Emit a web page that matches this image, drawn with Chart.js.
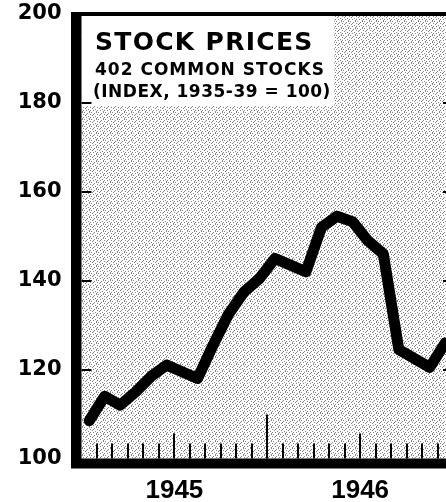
<!DOCTYPE html>
<html><head><meta charset="utf-8">
<script src="https://cdn.jsdelivr.net/npm/chart.js@4.4.0/dist/chart.umd.min.js"></script>
<style>
html,body{margin:0;padding:0;background:#fff;overflow:hidden;width:446px;height:502px}
#wrap{position:relative;width:446px;height:502px;overflow:hidden}
canvas{display:block}
</style></head><body>
<div id="wrap"><canvas id="c" width="470" height="502"></canvas></div>
<script>
// ---- data ----
const months = ['Jan 1945','Feb 1945','Mar 1945','Apr 1945','May 1945','Jun 1945','Jul 1945','Aug 1945','Sep 1945','Oct 1945','Nov 1945','Dec 1945',
                'Jan 1946','Feb 1946','Mar 1946','Apr 1946','May 1946','Jun 1946','Jul 1946','Aug 1946','Sep 1946','Oct 1946','Nov 1946','Dec 1946'];
const stockIndex = [108.5,114,112,115,118.5,121,119.5,118,125.5,132.5,137.5,140.5,
                    145,143.5,142,152,154.5,153.3,149,146,124.5,122.5,120.5,126];
const yTicks = [100,120,140,160,180,200];
const yearLabels = ['1945','1946'];
const titleLines = ['STOCK PRICES','402 COMMON STOCKS','(INDEX, 1935-39 = 100)'];

// ---- pattern ----
const tile = document.createElement('canvas'); tile.width = 7; tile.height = 7;
const tc = tile.getContext('2d');
tc.fillStyle = '#fff'; tc.fillRect(0,0,7,7);
tc.fillStyle = '#858585';
[[0,0],[3,1],[6,2],[1,3],[4,4],[2,5],[5,6],[5,0],[2,2],[6,5]].forEach(([x,y]) => tc.fillRect(x,y,1,1));

const ctx0 = document.getElementById('c').getContext('2d');
const stipple = ctx0.createPattern(tile, 'repeat');

const points = stockIndex.map((v,i) => ({x: i + 0.5, y: v}));

const framePlugin = {
  id: 'frame',
  beforeDatasetsDraw(chart) {
    const {ctx, chartArea: a} = chart;
    ctx.save();
    ctx.fillStyle = stipple;
    ctx.fillRect(a.left, a.top, a.right - a.left, a.bottom - a.top);
    ctx.fillStyle = '#fff';
    ctx.fillRect(a.left, a.top, 253, 92);
    ctx.fillStyle = '#000';
    ctx.textBaseline = 'alphabetic';
    ctx.textAlign = 'left';
    ctx.letterSpacing = '1.3px';
    ctx.font = 'bold 25px "DejaVu Sans"';
    ctx.fillText(titleLines[0], 95, 50);
    ctx.letterSpacing = '1px';
    ctx.font = 'bold 17px "DejaVu Sans"';
    ctx.fillText(titleLines[1], 95, 75);
    ctx.letterSpacing = '0.5px';
    ctx.fillText(titleLines[2], 93, 97);
    ctx.restore();
  },
  afterDatasetsDraw(chart) {
    const {ctx, chartArea: a, scales} = chart;
    const xs = scales.x, ys = scales.y;
    ctx.save();
    ctx.fillStyle = '#000';
    // frame
    ctx.fillRect(71, 12, a.left - 71, 468 - 12);
    ctx.fillRect(71, 12, 480, 4);
    ctx.fillRect(71, a.bottom, 480, 10);
    ctx.fillRect(a.right, 12, 11, 468 - 12);
    // x month ticks
    ctx.strokeStyle = '#000';
    ctx.lineWidth = 2;
    for (let m = 1; m <= 24; m++) {
      const px = Math.round(xs.getPixelForValue(m));
      const len = (m % 12 === 0) ? 44 : (m % 6 === 0) ? 25 : 15;
      ctx.beginPath();
      ctx.moveTo(px, a.bottom);
      ctx.lineTo(px, a.bottom - len);
      ctx.stroke();
    }
    // y inner ticks
    yTicks.slice(1, -1).forEach(v => {
      const py = Math.round(ys.getPixelForValue(v));
      ctx.beginPath();
      ctx.moveTo(a.left, py); ctx.lineTo(a.left + 10, py);
      ctx.moveTo(a.right, py); ctx.lineTo(a.right - 10, py);
      ctx.stroke();
    });
    ctx.restore();
  }
};

new Chart(ctx0, {
  type: 'line',
  data: {
    labels: months,
    datasets: [{
      data: points,
      borderColor: '#000',
      borderWidth: 11,
      borderJoinStyle: 'round',
      borderCapStyle: 'round',
      pointRadius: 0,
      tension: 0,
      fill: false
    }]
  },
  options: {
    responsive: false,
    animation: false,
    events: [],
    layout: {padding: {left: 0, top: 14, right: 17, bottom: 0}},
    plugins: {legend: {display: false}, tooltip: {enabled: false}, title: {display: false}},
    scales: {
      x: {
        type: 'linear', min: 0, max: 24,
        grid: {display: false, drawTicks: false},
        border: {display: false},
        afterBuildTicks: s => { s.ticks = [{value: 6}, {value: 18}]; },
        afterFit: s => { s.height = 502 - 14 - 444.5; s.paddingLeft = 0; s.paddingRight = 0; s.paddingTop = 0; s.paddingBottom = 0; },
        ticks: {
          autoSkip: false, maxRotation: 0, padding: 17,
          color: '#000',
          font: {family: '"Liberation Sans"', size: 26, weight: 'bold'},
          callback: v => v === 6 ? yearLabels[0] : v === 18 ? yearLabels[1] : ''
        }
      },
      y: {
        min: 100, max: 200,
        grid: {display: false, drawTicks: false},
        border: {display: false},
        afterBuildTicks: s => { s.ticks = yTicks.map(v => ({value: v})); },
        afterFit: s => { s.width = 81.5; s.paddingTop = 0; s.paddingBottom = 0; s.paddingLeft = 0; s.paddingRight = 0; },
        ticks: {
          padding: 20, color: '#000',
          font: {family: '"DejaVu Sans"', size: 21, weight: 'bold'}
        }
      }
    }
  },
  plugins: [framePlugin]
});
</script>
</body></html>
